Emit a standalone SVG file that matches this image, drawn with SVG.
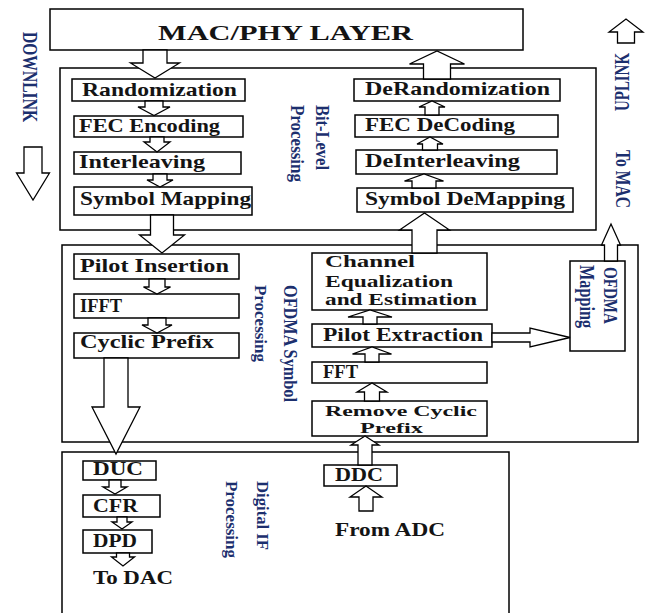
<svg xmlns="http://www.w3.org/2000/svg" width="648" height="613" viewBox="0 0 648 613">
<style>
.box{fill:#fff;stroke:#000;stroke-width:1.5}
.cont{fill:none;stroke:#000;stroke-width:1.5}
.arr{fill:#fff;stroke:#000;stroke-width:1.3;stroke-linejoin:miter}
.t{font-family:"Liberation Serif","Times New Roman",serif;font-weight:bold;font-size:19px;fill:#141414}
.m{font-size:16px}
.s{font-size:15px}
.r{font-family:"Liberation Serif","Times New Roman",serif;font-weight:bold;fill:#1c2f6e}
</style>
<rect width="648" height="613" fill="#fff"/>
<g id="containers">
  <g id="bitlevel">
    <rect class="cont" x="60" y="68" width="536" height="162"/>
    <text class="r" font-size="18" transform="translate(315.5,105) rotate(90)" textLength="65" lengthAdjust="spacingAndGlyphs">Bit-Level</text>
    <text class="r" font-size="18" transform="translate(291,105) rotate(90)" textLength="77" lengthAdjust="spacingAndGlyphs">Processing</text>
  </g>
  <g id="ofdma">
    <rect class="cont" x="62" y="245" width="576" height="197"/>
    <text class="r" font-size="18" transform="translate(284,285) rotate(90)" textLength="117" lengthAdjust="spacingAndGlyphs">OFDMA Symbol</text>
    <text class="r" font-size="16" transform="translate(255,285) rotate(90)" textLength="77" lengthAdjust="spacingAndGlyphs">Processing</text>
  </g>
  <g id="digitalif">
    <rect class="cont" x="62" y="452" width="447" height="170"/>
    <text class="r" font-size="17" transform="translate(257,481) rotate(90)" textLength="69" lengthAdjust="spacingAndGlyphs">Digital IF</text>
    <text class="r" font-size="17" transform="translate(226,481) rotate(90)" textLength="77" lengthAdjust="spacingAndGlyphs">Processing</text>
  </g>
</g>
<g id="mac">
  <rect class="box" x="50" y="9" width="473" height="41"/>
  <text class="t" font-size="22" x="158" y="40" textLength="255" lengthAdjust="spacingAndGlyphs" style="font-size:22px">MAC/PHY LAYER</text>
</g>
<g id="randomization"><rect class="box" x="72" y="79" width="173" height="22"/><text class="t" x="82" y="96" textLength="155" lengthAdjust="spacingAndGlyphs">Randomization</text></g>
<g id="fecenc"><rect class="box" x="74" y="116" width="169" height="21"/><text class="t" x="79" y="132" textLength="141" lengthAdjust="spacingAndGlyphs">FEC Encoding</text></g>
<g id="interleaving"><rect class="box" x="74" y="152" width="167" height="22"/><text class="t" x="79" y="168" textLength="126" lengthAdjust="spacingAndGlyphs">Interleaving</text></g>
<g id="symmap"><rect class="box" x="74" y="187" width="178" height="28"/><text class="t" x="80" y="205" textLength="171" lengthAdjust="spacingAndGlyphs">Symbol Mapping</text></g>
<g id="derand"><rect class="box" x="354" y="79" width="206" height="22"/><text class="t" x="365" y="95" textLength="185" lengthAdjust="spacingAndGlyphs">DeRandomization</text></g>
<g id="fecdec"><rect class="box" x="355" y="115" width="203" height="22"/><text class="t" x="365" y="131" textLength="150" lengthAdjust="spacingAndGlyphs">FEC DeCoding</text></g>
<g id="deinter"><rect class="box" x="356" y="150" width="201" height="24"/><text class="t" x="365" y="167" textLength="155" lengthAdjust="spacingAndGlyphs">DeInterleaving</text></g>
<g id="symdemap"><rect class="box" x="357" y="188" width="216" height="24"/><text class="t" x="365" y="205" textLength="200" lengthAdjust="spacingAndGlyphs">Symbol DeMapping</text></g>
<g id="pilotins"><rect class="box" x="74" y="254" width="165" height="25"/><text class="t" x="80" y="272" textLength="149" lengthAdjust="spacingAndGlyphs">Pilot Insertion</text></g>
<g id="ifft"><rect class="box" x="74" y="294" width="165" height="24"/><text class="t" x="80" y="312" textLength="42" lengthAdjust="spacingAndGlyphs">IFFT</text></g>
<g id="cyclic"><rect class="box" x="74" y="333" width="165" height="25"/><text class="t" x="80" y="348" textLength="134" lengthAdjust="spacingAndGlyphs">Cyclic Prefix</text></g>
<g id="chaneq"><rect class="box" x="312" y="253" width="175" height="57"/>
  <text class="t m" x="325" y="267" textLength="90" lengthAdjust="spacingAndGlyphs">Channel</text>
  <text class="t m" x="325" y="287" textLength="128" lengthAdjust="spacingAndGlyphs">Equalization</text>
  <text class="t m" x="325" y="305" textLength="152" lengthAdjust="spacingAndGlyphs">and Estimation</text></g>
<g id="pilotext"><rect class="box" x="312" y="324" width="180" height="23"/><text class="t" x="323" y="341" textLength="160" lengthAdjust="spacingAndGlyphs">Pilot Extraction</text></g>
<g id="fft"><rect class="box" x="312" y="362" width="175" height="21"/><text class="t" x="323" y="378" textLength="35" lengthAdjust="spacingAndGlyphs">FFT</text></g>
<g id="removecp"><rect class="box" x="312" y="401" width="175" height="35"/>
  <text class="t s" x="325" y="416" textLength="152" lengthAdjust="spacingAndGlyphs">Remove Cyclic</text>
  <text class="t s" x="360" y="433" textLength="63" lengthAdjust="spacingAndGlyphs">Prefix</text></g>
<g id="ofdmamap"><rect class="box" x="570" y="261" width="55" height="90"/>
  <text class="r" font-size="19" transform="translate(604,267) rotate(90)" textLength="57" lengthAdjust="spacingAndGlyphs">OFDMA</text>
  <text class="r" font-size="20" transform="translate(580,265) rotate(90)" textLength="63" lengthAdjust="spacingAndGlyphs">Mapping</text></g>
<g id="duc"><rect class="box" x="83" y="461" width="73" height="19"/><text class="t" x="93" y="475" textLength="50" lengthAdjust="spacingAndGlyphs">DUC</text></g>
<g id="cfr"><rect class="box" x="83" y="495" width="77" height="22"/><text class="t" x="93" y="512" textLength="45" lengthAdjust="spacingAndGlyphs">CFR</text></g>
<g id="dpd"><rect class="box" x="83" y="530" width="69" height="23"/><text class="t" x="93" y="547" textLength="44" lengthAdjust="spacingAndGlyphs">DPD</text></g>
<g id="ddc"><rect class="box" x="324" y="465" width="73" height="21"/><text class="t" x="335" y="481" textLength="48" lengthAdjust="spacingAndGlyphs">DDC</text></g>
<g id="todac"><text class="t" x="93" y="584" textLength="80" lengthAdjust="spacingAndGlyphs">To DAC</text></g>
<g id="fromadc"><text class="t" x="335" y="536" textLength="110" lengthAdjust="spacingAndGlyphs">From ADC</text></g>
<g id="downlink">
  <text class="r" font-size="20" transform="translate(23,32) rotate(90)" textLength="90" lengthAdjust="spacingAndGlyphs">DOWNLINK</text>
  <polygon class="arr" points="24,147 42,147 42,173 49.5,173 33,200 16.5,173 24,173"/>
</g>
<g id="uplink">
  <polygon class="arr" points="617.5,43 634.5,43 634.5,32 643,32 626,19 609,32 617.5,32"/>
  <text class="r" font-size="20" transform="translate(629,111) rotate(-90)" textLength="58" lengthAdjust="spacingAndGlyphs">UPLINK</text>
</g>
<g id="tomac">
  <text class="r" font-size="20" transform="translate(616,150) rotate(90)" textLength="58" lengthAdjust="spacingAndGlyphs">To MAC</text>
</g>
<g id="connectors">
  <polygon class="arr" points="143,50 167,50 167,63 179.5,63 155,78 130.5,63 143,63"/>
  <polygon class="arr" points="145,101 163,101 163,107 170,107 154,115.5 138,107 145,107"/>
  <polygon class="arr" points="150,137 164,137 164,142 170,142 157,152 144,142 150,142"/>
  <polygon class="arr" points="153,174 167,174 167,180 173,180 160,187 147,180 153,180"/>
  <polygon class="arr" points="150.5,215 173.5,215 173.5,235 184.5,235 162,253 139.5,235 150.5,235"/>
  <polygon class="arr" points="149,279 165,279 165,287 170.5,287 157,294 143.5,287 149,287"/>
  <polygon class="arr" points="148,318 166,318 166,325 172,325 157,333 142,325 148,325"/>
  <polygon class="arr" points="104,358 128,358 128,407 140,407 116,454 92,407 104,407"/>
  <polygon class="arr" points="109,480 121,480 121,487 127,487 115,494 103,487 109,487"/>
  <polygon class="arr" points="117,517 127,517 127,522 132,522 122,529 112,522 117,522"/>
  <polygon class="arr" points="116.5,553 129.5,553 129.5,557 134.5,557 123,566 111.5,557 116.5,557"/>
  <polygon class="arr" points="423.5,79 450.5,79 450.5,64 464.5,64 437,51 409.5,64 423.5,64"/>
  <polygon class="arr" points="425,115 439,115 439,107 445,107 432,101 419,107 425,107"/>
  <polygon class="arr" points="422.5,150 437.5,150 437.5,144 443,144 430,137 417,144 422.5,144"/>
  <polygon class="arr" points="412,188 436,188 436,181 443.5,181 424,174 404.5,181 412,181"/>
  <polygon class="arr" points="412,253 437,253 437,230 449.5,230 424.5,213 399.5,230 412,230"/>
  <polygon class="arr" points="363,324 377,324 377,317 392,317 370,310 348,317 363,317"/>
  <polygon class="arr" points="365,362 379,362 379,354 391.5,354 372,347 352.5,354 365,354"/>
  <polygon class="arr" points="364.5,401 379.5,401 379.5,392 387,392 372,383 357,392 364.5,392"/>
  <polygon class="arr" points="358,465 372,465 372,445 379,445 365,436 351,445 358,445"/>
  <polygon class="arr" points="359,511 373,511 373,497 382,497 366,486 350,497 359,497"/>
  <polygon class="arr" points="604.5,261 617.5,261 617.5,245 620.5,245 611,224 601.5,245 604.5,245"/>
  <polygon class="arr" points="492,333 530,333 530,328 570,337.5 530,347 530,342 492,342"/>
</g>
</svg>
